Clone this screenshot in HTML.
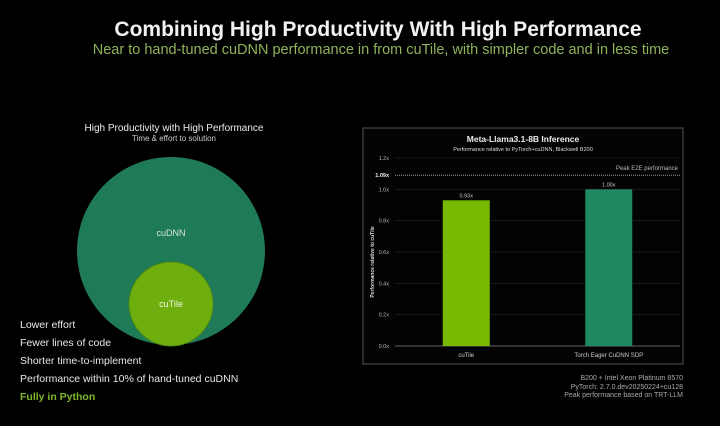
<!DOCTYPE html>
<html><head><meta charset="utf-8"><style>
html,body{margin:0;padding:0;background:#000;}
body{width:720px;height:426px;position:relative;overflow:hidden;font-family:"Liberation Sans",sans-serif;}
.t{position:absolute;white-space:nowrap;}
</style></head><body>
<div class="t" style="left:0;width:756px;text-align:center;top:18px;font-size:21px;font-weight:bold;color:#f2f2f2;">Combining High Productivity With High Performance</div>
<div class="t" style="left:0;width:762px;text-align:center;top:42px;font-size:14.5px;color:#8fb35a;">Near to hand-tuned cuDNN performance in from cuTile, with simpler code and in less time</div>

<div class="t" style="left:0;width:348px;text-align:center;top:123px;font-size:10px;color:#eee;">High Productivity with High Performance</div>
<div class="t" style="left:0;width:348px;text-align:center;top:134px;font-size:8px;color:#ccc;">Time &amp; effort to solution</div>
<svg width="720" height="426" style="position:absolute;left:0;top:0">
<circle cx="171" cy="251" r="94" fill="#1f7a57"/>
<circle cx="171" cy="304" r="42" fill="#6fae0f" stroke="#4c8a10" stroke-width="1"/>
<text x="171" y="236" font-size="9" fill="#d8e8d8" text-anchor="middle" font-family="Liberation Sans">cuDNN</text>
<text x="171" y="307" font-size="9" fill="#f0f5e0" text-anchor="middle" font-family="Liberation Sans">cuTile</text>
</svg>
<div style="position:absolute;left:20px;top:316px;font-size:10.5px;color:#e8e8e8;line-height:18px;">
<div>Lower effort</div>
<div>Fewer lines of code</div>
<div>Shorter time-to-implement</div>
<div>Performance within 10% of hand-tuned cuDNN</div>
<div style="color:#7fb82a;font-weight:bold;">Fully in Python</div>
</div>

<svg id="chart" width="720" height="426" style="position:absolute;left:0;top:0"></svg>
<div class="t" style="right:37px;top:375px;font-size:7px;color:#aaa;text-align:right;line-height:8.5px;">B200 + Intel Xeon Platinum 8570<br>PyTorch: 2.7.0.dev20250224+cu128<br>Peak performance based on TRT-LLM</div>
<script>
const categories=["cuTile","Torch Eager CuDNN SDP"];
const values=[0.93,1.00];
const valueLabels=["0.93x","1.00x"];
const ticks=[0,0.2,0.4,0.6,0.8,1.0,1.2];
const tickLabels=["0.0x","0.2x","0.4x","0.6x","0.8x","1.0x","1.2x"];
const peak=1.09;
const peakLabel="1.09x";
const colors=["#76b900","#1f8a62"];
const svg=document.getElementById('chart');
const NS='http://www.w3.org/2000/svg';
const x0=395,x1=680,y0=346,yTop=158;
const y=v=>y0-(v/1.2)*(y0-yTop);
const band=(x1-x0)/categories.length;
const xc=i=>x0+band*(i+0.5);
function mk(t,a){const e=document.createElementNS(NS,t);for(const k in a)e.setAttribute(k,a[k]);svg.appendChild(e);return e;}
let e=mk('rect',{x:363,y:128,width:320,height:236,fill:'#030303',stroke:'#555','stroke-width':1});

e=mk('text',{x:523,y:142,'font-size':8.5,'font-weight':'bold',fill:'#eee','text-anchor':'middle','font-family':'Liberation Sans'});e.textContent='Meta-Llama3.1-8B Inference';

e=mk('text',{x:523,y:151,'font-size':5.5,fill:'#ddd','text-anchor':'middle','font-family':'Liberation Sans'});e.textContent='Performance relative to PyTorch+cuDNN, Blackwell B200';

ticks.forEach((t,i)=>{
 const g=mk('line',{x1:x0,x2:x1,y1:y(t),y2:y(t),stroke:i==0?'#666':'#2a2a2a','stroke-width':1,'stroke-dasharray':i==0?'':'1,1'});
 
 const l=mk('text',{x:389,y:y(t)+2,'font-size':5.5,fill:'#bbb','text-anchor':'end','font-family':'Liberation Sans'});l.textContent=tickLabels[i];
 
});
e=mk('line',{x1:x0,x2:x1,y1:y(peak),y2:y(peak),stroke:'#999','stroke-width':1,'stroke-dasharray':'1,1'});

e=mk('text',{x:389,y:y(peak)+2,'font-size':5.5,'font-weight':'bold',fill:'#eee','text-anchor':'end','font-family':'Liberation Sans'});e.textContent=peakLabel;

e=mk('text',{x:678,y:y(peak)-5,'font-size':6,fill:'#bbb','text-anchor':'end','font-family':'Liberation Sans'});e.textContent='Peak E2E performance';

e=mk('text',{x:0,y:0,'font-size':5,'font-weight':'bold',fill:'#ddd','text-anchor':'middle','font-family':'Liberation Sans',transform:'translate(374,262) rotate(-90)'});e.textContent='Performance relative to cuTile';

const bw=47;
categories.forEach((c,i)=>{
 const b=mk('rect',{x:xc(i)-bw/2,y:y(values[i]),width:bw,height:y0-y(values[i]),fill:colors[i]});
 
 const v=mk('text',{x:xc(i),y:y(values[i])-3,'font-size':5.5,fill:'#ccc','text-anchor':'middle','font-family':'Liberation Sans'});v.textContent=valueLabels[i];
 
 const l=mk('text',{x:xc(i),y:357,'font-size':6,fill:'#ccc','text-anchor':'middle','font-family':'Liberation Sans'});l.textContent=c;
 
});
</script>
</body></html>
